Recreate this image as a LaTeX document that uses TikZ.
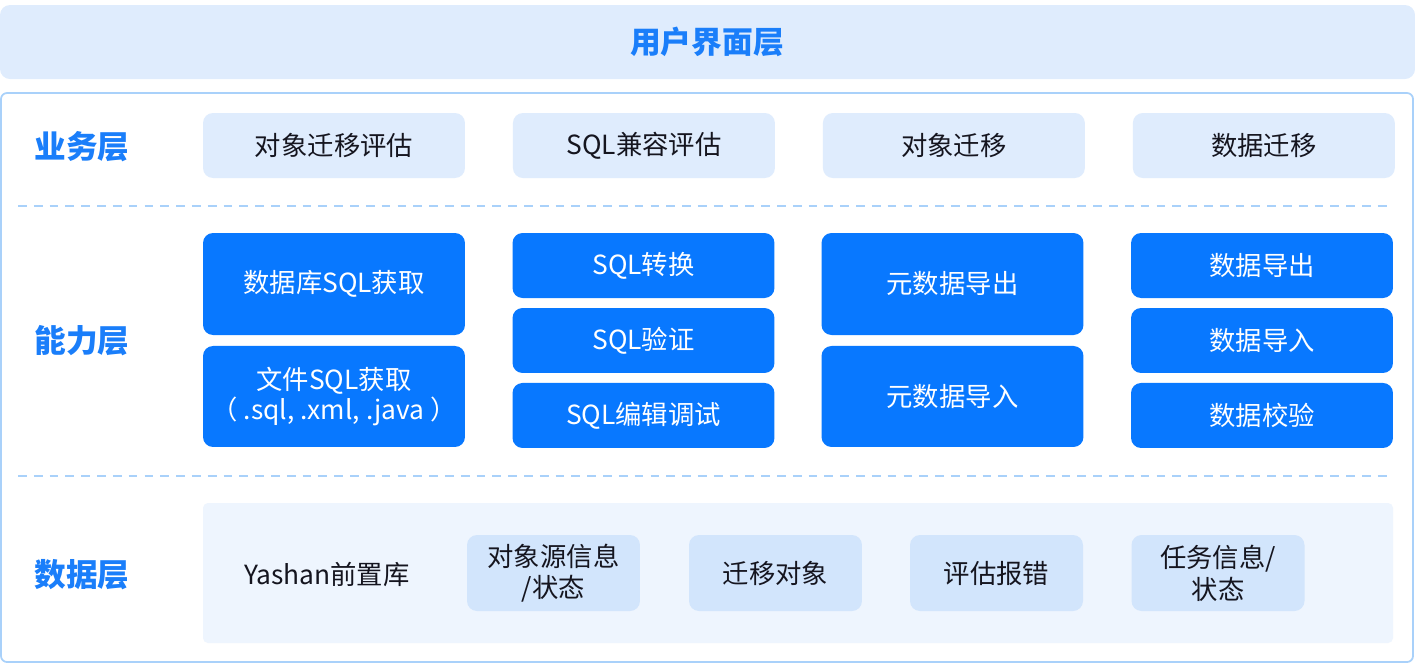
\documentclass[tikz,border=0pt]{standalone}
\usepackage{fontspec}
\setmainfont{Noto Sans CJK SC}
\usetikzlibrary{positioning}

\definecolor{paleblue}{HTML}{DFECFD}
\definecolor{framecol}{HTML}{A9D1FA}
\definecolor{capblue}{HTML}{0878FF}
\definecolor{labblue}{HTML}{1A7EFA}
\definecolor{databg}{HTML}{EEF5FE}
\definecolor{datacell}{HTML}{D2E5FC}
\definecolor{txtdark}{HTML}{15151F}

\tikzset{
  layer/.style={text=labblue, font=\fontsize{18}{21}\selectfont\bfseries},
  cell/.style={rounded corners=0.2cm, inner sep=0pt, outer sep=0pt, align=center,
    minimum width=5.24cm, minimum height=1.3cm},
  busbox/.style={cell, fill=paleblue, text=txtdark, font=\fontsize{15}{17}\selectfont},
  capbox/.style={cell, fill=capblue, text=white, font=\fontsize{15}{17}\selectfont},
  databox/.style={cell, fill=datacell, text=txtdark, minimum width=3.46cm,
    minimum height=1.52cm, font=\fontsize{15}{18}\selectfont},
  sepline/.style={framecol, dashed, dash pattern=on 5pt off 4pt, line width=0.8pt}
}

\begin{document}
\begin{tikzpicture}[x=0.02cm, y=-0.02cm]
\useasboundingbox (0,0) rectangle (1415,667);

%Frames.
\fill[paleblue, rounded corners=0.2cm] (0,5) rectangle (1415,79);
\node[text=labblue, font=\fontsize{17.5}{20}\selectfont\bfseries] (ui) at (707,42) {用户界面层};
\draw[framecol, line width=1pt, fill=white, rounded corners=0.12cm] (1,93) rectangle (1413,662);
\fill[databg, rounded corners=0.1cm] (203,503) rectangle (1393,643);

%Layer names.
\node[layer] (lbus) at (82,147) {业务层};
\node[layer] (lcap) at (82,341) {能力层};
\node[layer] (ldata) at (82,575) {数据层};

%Business nodes.
\node[busbox] (b1) at (334,145.5) {对象迁移评估};
\node[busbox, right=0.96cm of b1] (b2) {SQL兼容评估};
\node[busbox, right=0.96cm of b2] (b3) {对象迁移};
\node[busbox, right=0.96cm of b3] (b4) {数据迁移};

%Separators.
\coordinate (s1l) at (18,206);
\coordinate (s1r) at (1393,206);
\coordinate (s2l) at (18,476);
\coordinate (s2r) at (1393,476);
\draw[sepline] (s1l) -- (s1r);
\draw[sepline] (s2l) -- (s2r);

%Capability nodes.
\node[capbox, minimum height=2.04cm] (c11) at (334,284) {数据库SQL获取};
\node[capbox, minimum height=2.02cm, below=0.22cm of c11] (c12) {文件SQL获取\\（ .sql, .xml, .java ）};
\node[capbox] (c21) at (643.5,265.5) {SQL转换};
\node[capbox, below=0.2cm of c21] (c22) {SQL验证};
\node[capbox, below=0.2cm of c22] (c23) {SQL编辑调试};
\node[capbox, minimum height=2.04cm] (c31) at (952.5,284) {元数据导出};
\node[capbox, minimum height=2.02cm, below=0.22cm of c31] (c32) {元数据导入};
\node[capbox] (c41) at (1262,265.5) {数据导出};
\node[capbox, below=0.2cm of c41] (c42) {数据导入};
\node[capbox, below=0.2cm of c42] (c43) {数据校验};

%Data nodes.
\node[text=txtdark, font=\fontsize{15}{17}\selectfont] (d0) at (327,574) {Yashan前置库};
\node[databox] (d1) at (553.5,573) {对象源信息\\/状态};
\node[databox] (d2) at (775.5,573) {迁移对象};
\node[databox] (d3) at (996.5,573) {评估报错};
\node[databox] (d4) at (1218,573) {任务信息/\\状态};

\end{tikzpicture}
\end{document}
